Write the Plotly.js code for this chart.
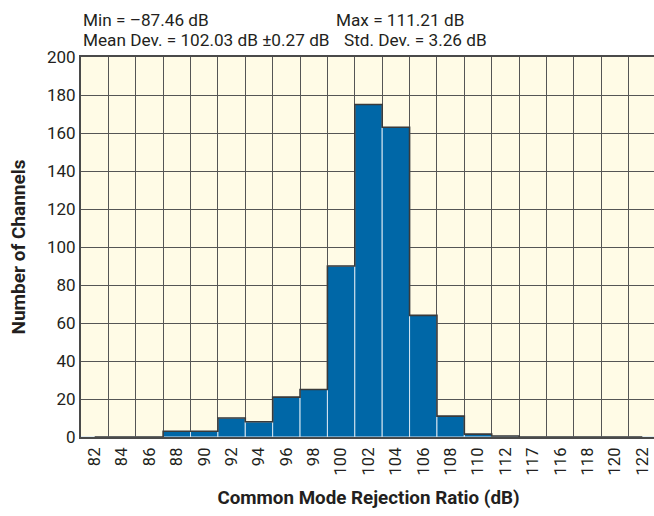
<!DOCTYPE html>
<html>
<head>
<meta charset="utf-8">
<script src="https://cdn.plot.ly/plotly-3.0.1.min.js"></script>
<style>
  html, body { margin: 0; padding: 0; overflow: hidden; background: #ffffff; }
  #chart { width: 656px; height: 516px; }
</style>
</head>
<body>
<div id="chart"></div>
<script>
// Histogram bins (category labels, as printed on the reference)
const binLabels = ["82","84","86","88","90","92","94","96","98","100","102","104","106","108","110","112","117","116","118","120","122"];
// Number of channels per bin
const channelCounts = [0,0,0,3,3,10,8,21,25,90,175,163,64,11,1.5,0.5,0,0,0,0,0];
// Y-axis ticks
const yTicks = [0,20,40,60,80,100,120,140,160,180,200];
// Statistics text
const statMin = "Min = \u201387.46 dB";
const statMax = "Max = 111.21 dB";
const statMean = "Mean Dev. = 102.03 dB \u00b10.27 dB";
const statStd = "Std. Dev. = 3.26 dB";

const FONT = "Roboto, 'Liberation Sans', sans-serif";
const TXT = "#231f20";

const bars = {
  type: "bar",
  x: binLabels,
  y: channelCounts,
  marker: { color: "#0067a7", line: { color: "#d6e6f2", width: 1 } },
  hoverinfo: "x+y",
  showlegend: false
};
const outline = {
  type: "scatter",
  mode: "lines",
  x: binLabels,
  y: channelCounts,
  line: { shape: "hvh", color: "#3a3a3a", width: 1.6 },
  hoverinfo: "skip",
  showlegend: false
};

const annFont = { family: FONT, size: 17.2, color: TXT };

const layout = {
  width: 656,
  height: 516,
  margin: { l: 81, r: 0, t: 57, b: 79 },
  paper_bgcolor: "#ffffff",
  plot_bgcolor: "#fffbe6",
  bargap: 0,
  font: { family: FONT, color: TXT, size: 16 },
  xaxis: {
    type: "category",
    tickson: "boundaries",
    tickangle: -90,
    showgrid: true,
    gridcolor: "#555555",
    gridwidth: 1,
    showline: true,
    linecolor: "#4a4a4a",
    linewidth: 2,
    mirror: true,
    ticks: "",
    ticklabelstandoff: 2,
    tickfont: { family: FONT, size: 16.5, color: TXT },
    title: { text: "<b>Common Mode Rejection Ratio (dB)</b>", font: { family: FONT, size: 18.8, color: TXT }, standoff: 16 },
    fixedrange: true
  },
  yaxis: {
    range: [0, 200],
    tickvals: yTicks,
    ticktext: yTicks.map(String),
    showgrid: true,
    gridcolor: "#555555",
    gridwidth: 1,
    zeroline: false,
    showline: true,
    linecolor: "#4a4a4a",
    linewidth: 2,
    mirror: true,
    ticks: "",
    tickfont: { family: FONT, size: 17, color: TXT },
    title: { text: "<b>Number of Channels</b>", font: { family: FONT, size: 19, color: TXT }, standoff: 16 },
    fixedrange: true
  },
  annotations: [
    { xref: "paper", yref: "paper", x: 0.0, y: 1.097, xanchor: "left", yanchor: "middle", text: statMin, showarrow: false, font: annFont },
    { xref: "paper", yref: "paper", x: 0.440, y: 1.097, xanchor: "left", yanchor: "middle", text: statMax, showarrow: false, font: annFont },
    { xref: "paper", yref: "paper", x: 0.0, y: 1.045, xanchor: "left", yanchor: "middle", text: statMean, showarrow: false, font: annFont },
    { xref: "paper", yref: "paper", x: 0.454, y: 1.045, xanchor: "left", yanchor: "middle", text: statStd, showarrow: false, font: annFont }
  ]
};

Plotly.newPlot("chart", [bars, outline], layout, { displayModeBar: false, staticPlot: true });
</script>
</body>
</html>
